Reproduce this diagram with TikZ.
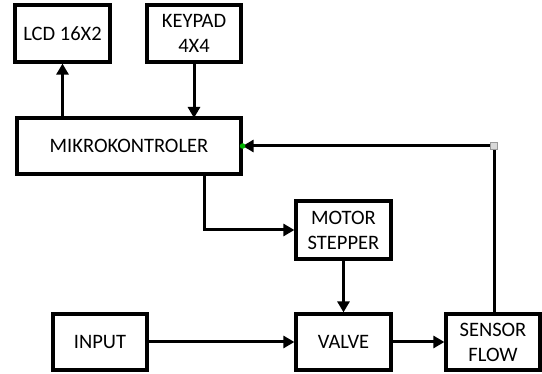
\documentclass[tikz,border=0pt]{standalone}
\usepackage{fontspec}
\setmainfont{Carlito}
\usetikzlibrary{arrows.meta,calc}
\begin{document}
\begin{tikzpicture}[x=1pt,y=-1pt,
  blk/.style={draw=black,line width=3.2pt,inner sep=0pt,align=center,font=\fontsize{20.5}{25}\selectfont},
  conn/.style={line width=3pt,-{Triangle[length=11pt,width=12pt]}},
  wire/.style={line width=3pt}]
\useasboundingbox (0,0) rectangle (542,374);
\node[blk,minimum width=95pt,minimum height=57pt] (lcd) at (62.5,33.5) {LCD 16X2};
\node[blk,minimum width=94pt,minimum height=57pt] (key) at (194,33.5) {KEYPAD\\4X4};
\node[blk,minimum width=224pt,minimum height=56pt] (mcu) at (129,146) {MIKROKONTROLER};
\node[blk,minimum width=95pt,minimum height=58pt] (mot) at (343.5,230) {MOTOR\\STEPPER};
\node[blk,minimum width=94pt,minimum height=56pt] (inp) at (100,342) {INPUT};
\node[blk,minimum width=95pt,minimum height=56pt] (val) at (343.5,342) {VALVE};
\node[blk,minimum width=94pt,minimum height=56pt] (sen) at (493,342) {SENSOR\\FLOW};
\coordinate (fb) at (494,146);
\coordinate (mcuout) at (204,174);
\draw[conn] (62.5,118) -- (lcd.south);
\draw[conn] (key.south) -- (194,118);
\draw[conn] (mcuout) |- (mot.west);
\draw[conn] (mot.south) -- (val.north);
\draw[conn] (inp.east) -- (val.west);
\draw[conn] (val.east) -- (sen.west);
\draw[wire] (sen.north -| fb) -- (fb);
\draw[conn] (fb) -- (mcu.east);
\fill[green!70!black] (mcu.east) circle (2.8pt);
\draw[gray!80,fill=gray!30,line width=0.8pt] ($(fb)+(-3.5,-3.5)$) rectangle ++(7,7);
\end{tikzpicture}
\end{document}
